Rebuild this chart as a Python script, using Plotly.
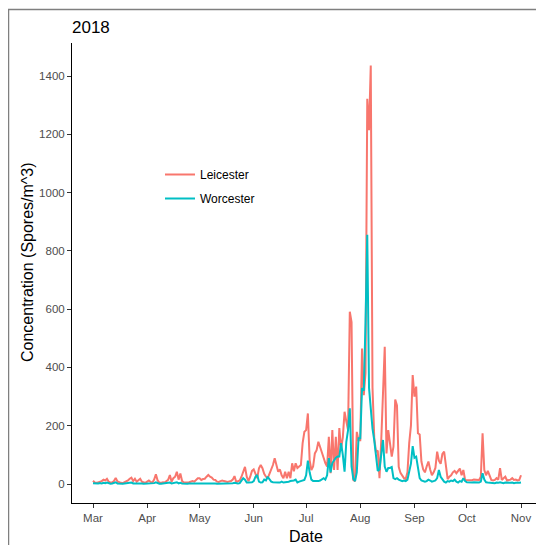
import datetime as dt
import plotly.graph_objects as go

start_date = "2018-03-01"

leicester_mar = [11,5,4,6,8,10,15,12,18,8,5,6,10,21,9,5,4,3,6,9,12,18,22,10,18,8,14,18,8,5,4]
leicester_apr = [8,12,7,5,15,33,12,5,4,6,5,10,14,31,8,20,25,42,15,36,10,5,4,5,6,8,10,8,14,20]
leicester_may = [20,14,17,18,25,31,25,22,15,14,8,7,10,12,10,8,7,9,10,15,27,7,9,12,25,40,59,25,10,25,45]
leicester_jun = [50,35,20,54,65,54,35,25,20,35,48,65,88,59,42,50,30,20,42,20,42,20,71,44,71,55,60,65,140,179]
leicester_jul = [185,242,82,48,60,105,116,145,127,105,90,72,60,162,37,185,48,162,48,192,120,160,248,215,185,591,556,14,10,179,150]
leicester_aug = [150,465,305,380,1322,1214,1436,330,157,110,115,20,150,320,471,105,185,140,94,128,290,270,59,38,27,20,17,40,140,200,374]
leicester_sep = [300,334,174,170,77,50,40,60,77,50,30,40,55,111,80,69,103,111,60,17,25,30,40,45,37,45,53,30,48,14]
leicester_oct = [14,12,14,13,15,14,13,14,25,174,48,30,45,25,14,12,14,20,15,54,14,20,25,12,14,15,20,14,15,12,14]
leicester_nov = [30]

worcester_mar = [3,2,1,2,3,2,4,3,5,2,1,2,3,6,2,1,1,1,2,3,2,4,5,2,3,2,2,3,2,1,1]
worcester_apr = [2,3,2,1,3,6,3,1,1,2,1,2,3,5,2,3,4,6,2,4,2,1,1,1,2,2,3,2,3,4]
worcester_may = [3,2,3,2,3,4,3,2,2,2,1,1,2,2,1,1,1,2,2,3,4,2,2,3,10,20,15,5,5,5,6]
worcester_jun = [10,25,31,8,5,6,15,12,25,15,8,6,5,4,5,5,8,5,6,5,8,10,10,12,15,5,8,10,12,14]
worcester_jul = [30,80,40,15,10,10,8,10,12,15,20,15,30,89,40,72,82,90,94,94,140,100,42,145,185,260,60,18,10,40,157]
worcester_aug = [157,329,320,556,855,330,260,190,150,90,45,50,100,151,60,42,55,55,58,20,17,20,15,12,10,12,10,15,40,70,130]
worcester_sep = [90,94,50,20,12,10,8,10,15,12,8,10,12,20,48,25,15,8,5,10,8,12,10,15,8,5,10,8,20,10]
worcester_oct = [6,5,4,5,6,5,4,5,8,37,15,6,5,4,5,4,3,5,4,6,4,3,5,4,3,4,5,3,4,3,4]
worcester_nov = [5]

x_tick_dates = ["2018-03-01","2018-04-01","2018-05-01","2018-06-01","2018-07-01",
                "2018-08-01","2018-09-01","2018-10-01","2018-11-01"]
x_tick_labels = ["Mar","Apr","May","Jun","Jul","Aug","Sep","Oct","Nov"]
y_tick_vals = [0,200,400,600,800,1000,1200,1400]

leicester = (leicester_mar + leicester_apr + leicester_may + leicester_jun + leicester_jul
             + leicester_aug + leicester_sep + leicester_oct + leicester_nov)
worcester = (worcester_mar + worcester_apr + worcester_may + worcester_jun + worcester_jul
             + worcester_aug + worcester_sep + worcester_oct + worcester_nov)

d0 = dt.date.fromisoformat(start_date)
dates = [d0 + dt.timedelta(days=i) for i in range(len(leicester))]

# page is rendered with an 8px body margin, so work in page coords and offset
OFF = 8
W, H = 544 - OFF, 545 - OFF
P_LEFT, P_RIGHT, P_TOP, P_BOTTOM = 72, 537, 43, 503   # plot panel in page pixels
L = P_LEFT - OFF
T = P_TOP - OFF
R = W - (P_RIGHT - OFF)
B = H - (P_BOTTOM - OFF)
pw, ph = P_RIGHT - P_LEFT, P_BOTTOM - P_TOP

def px_x(p):   # page x -> paper x
    return (p - P_LEFT) / pw
def px_y(p):   # page y -> paper y
    return (P_BOTTOM - p) / ph

px_per_day = (521 - 93) / 245.0
def to_str(base, days):
    t = dt.datetime.combine(base, dt.time()) + dt.timedelta(days=days)
    return t.strftime("%Y-%m-%d %H:%M:%S")
xr0s = to_str(d0, -(93 - P_LEFT) / px_per_day)
xr1s = to_str(dt.date(2018, 11, 1), (P_RIGHT - 521) / px_per_day)

pu = (484 - 76) / 1400.0
yr0 = -(P_BOTTOM - 484) / pu
yr1 = (484 - P_TOP) / pu

font = "Liberation Sans, Arial, sans-serif"

fig = go.Figure()
fig.add_trace(go.Scatter(x=dates, y=leicester, mode="lines", name="Leicester",
                         legendgroup="a", line=dict(color="#F8766D", width=2)))
fig.add_trace(go.Scatter(x=dates, y=worcester, mode="lines", name="Worcester",
                         legendgroup="b", line=dict(color="#00BFC4", width=2)))

fig.update_layout(
    width=W, height=H,
    margin=dict(l=L, r=R, t=T, b=B, pad=0),
    paper_bgcolor="white", plot_bgcolor="white",
    font=dict(family=font, color="#4D4D4D", size=12),
    showlegend=True,
    legend=dict(x=px_x(160), y=px_y(160), xanchor="left", yanchor="top",
                bgcolor="rgba(0,0,0,0)", font=dict(size=12, color="black", family=font),
                itemwidth=30, tracegroupgap=5),
    title=dict(text="2018", x=(72 - OFF) / W, xanchor="left", xref="container",
               y=1 - (27 - OFF) / H, yanchor="middle", yref="container",
               font=dict(size=17, color="black", family=font)),
    xaxis=dict(range=[xr0s, xr1s], tickvals=x_tick_dates, ticktext=x_tick_labels,
               showgrid=False, zeroline=False, showline=True, linecolor="black", linewidth=1,
               ticks="outside", ticklen=4, tickcolor="#333333", tickwidth=1,
               tickfont=dict(size=11.5, color="#4D4D4D")),
    yaxis=dict(range=[yr0, yr1], tickvals=y_tick_vals,
               showgrid=False, zeroline=False, showline=True, linecolor="black", linewidth=1,
               ticks="outside", ticklen=4, tickcolor="#333333", tickwidth=1,
               tickfont=dict(size=11.5, color="#4D4D4D")),
    annotations=[
        dict(text="Date", x=px_x(306), y=px_y(536), xref="paper", yref="paper",
             showarrow=False, font=dict(size=16, color="black", family=font),
             xanchor="center", yanchor="middle"),
        dict(text="Concentration (Spores/m^3)", x=px_x(27), y=px_y(262),
             xref="paper", yref="paper", showarrow=False, textangle=-90,
             font=dict(size=16, color="black", family=font),
             xanchor="center", yanchor="middle"),
    ],
    shapes=[
        dict(type="rect", xref="paper", yref="paper",
             x0=px_x(8.5), x1=px_x(542.5), y0=px_y(560), y1=px_y(9.5),
             line=dict(color="#7F7F7F", width=1.5), fillcolor="rgba(0,0,0,0)", layer="below"),
    ],
)

fig.write_html("out.html")
